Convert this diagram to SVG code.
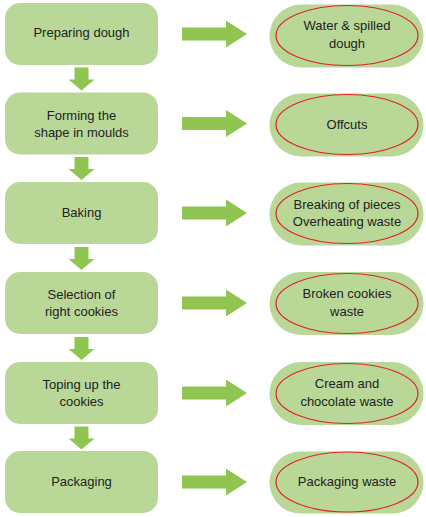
<svg xmlns="http://www.w3.org/2000/svg" width="426" height="517" viewBox="0 0 426 517">
<defs>
<style>
.box{fill:#b9d898;}
.pill{fill:#b9d898;}
.ring{fill:none;stroke:#e0222a;stroke-width:1.2;}
.arr{fill:#8fc550;}
text{font-family:"Liberation Sans",Arial,sans-serif;font-size:13px;fill:#222;text-anchor:middle;}
</style>
<path id="harr" d="M182,-6.5 H226 V-13.5 L247,0 L226,13.5 V6.5 H182 Z"/>
<path id="varr" d="M74.5,0 H88.5 V12 H94.5 L81.5,23 L68.5,12 H74.5 Z"/>
</defs>
<g id="connectors">
<use href="#harr" class="arr" y="34"/>
<use href="#harr" class="arr" y="123.5"/>
<use href="#harr" class="arr" y="213"/>
<use href="#harr" class="arr" y="303"/>
<use href="#harr" class="arr" y="393"/>
<use href="#harr" class="arr" y="482"/>
<use href="#varr" class="arr" y="67.5"/>
<use href="#varr" class="arr" y="157"/>
<use href="#varr" class="arr" y="247"/>
<use href="#varr" class="arr" y="337"/>
<use href="#varr" class="arr" y="426.5"/>
</g>
<g id="n1"><rect class="box" x="5" y="3" width="153" height="62" rx="15"/><text x="81.5" y="36.5">Preparing dough</text></g>
<g id="n2"><rect class="box" x="5" y="92.5" width="153" height="62" rx="15"/><text x="81.5" y="119.5">Forming the</text><text x="81.5" y="137">shape in moulds</text></g>
<g id="n3"><rect class="box" x="5" y="182" width="153" height="62" rx="15"/><text x="81.5" y="217">Baking</text></g>
<g id="n4"><rect class="box" x="5" y="272" width="153" height="62" rx="15"/><text x="81.5" y="298.5">Selection of</text><text x="81.5" y="316">right cookies</text></g>
<g id="n5"><rect class="box" x="5" y="362" width="153" height="62" rx="15"/><text x="81.5" y="388.5">Toping up the</text><text x="81.5" y="406">cookies</text></g>
<g id="n6"><rect class="box" x="5" y="451" width="153" height="62" rx="15"/><text x="81.5" y="485.5">Packaging</text></g>
<g id="w1"><rect class="pill" x="269.5" y="4.5" width="154" height="63" rx="31.5"/><ellipse class="ring" cx="347" cy="35.5" rx="71" ry="30"/><text x="347" y="30">Water &amp; spilled</text><text x="347" y="48">dough</text></g>
<g id="w2"><rect class="pill" x="269.5" y="93.5" width="154" height="63" rx="31.5"/><ellipse class="ring" cx="347" cy="124.5" rx="71" ry="30"/><text x="347" y="128.5">Offcuts</text></g>
<g id="w3"><rect class="pill" x="269.5" y="182.5" width="154" height="63" rx="31.5"/><ellipse class="ring" cx="347" cy="213.5" rx="71" ry="30"/><text x="347" y="208.5">Breaking of pieces</text><text x="347" y="226">Overheating waste</text></g>
<g id="w4"><rect class="pill" x="269.5" y="272" width="154" height="63" rx="31.5"/><ellipse class="ring" cx="347" cy="303.5" rx="71" ry="30"/><text x="347" y="298">Broken cookies</text><text x="347" y="315.5">waste</text></g>
<g id="w5"><rect class="pill" x="269.5" y="362" width="154" height="63" rx="31.5"/><ellipse class="ring" cx="347" cy="393.5" rx="71" ry="30"/><text x="347" y="387.5">Cream and</text><text x="347" y="405.5">chocolate waste</text></g>
<g id="w6"><rect class="pill" x="269.5" y="451.5" width="154" height="62" rx="31"/><ellipse class="ring" cx="347" cy="482" rx="71" ry="30"/><text x="347" y="486">Packaging waste</text></g>
</svg>
